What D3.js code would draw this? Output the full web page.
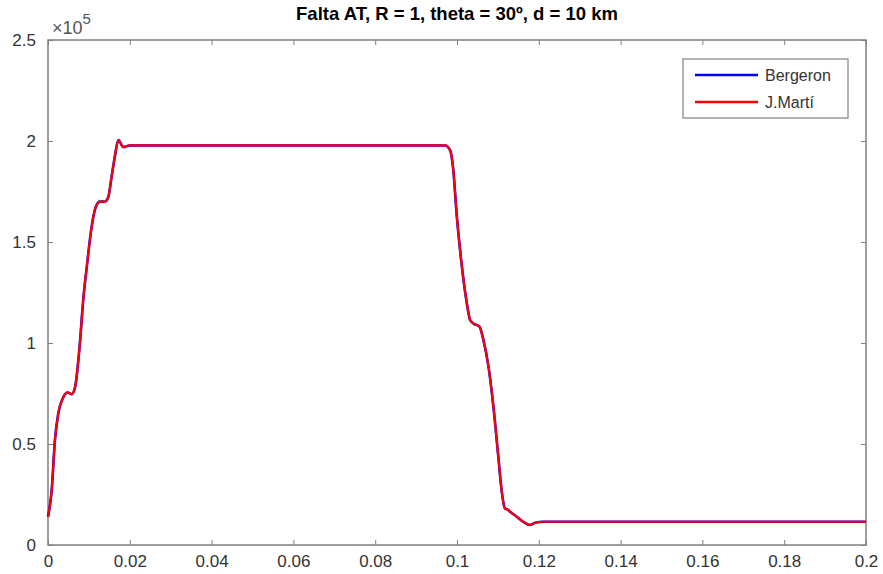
<!DOCTYPE html>
<html>
<head>
<meta charset="utf-8">
<script src="https://cdn.jsdelivr.net/npm/d3@7"></script>
<style>
body { margin: 0; background: #fff; }
svg { display: block; font-family: Arial, "Liberation Sans", sans-serif; }
</style>
</head>
<body>
<svg></svg>
<script>
// time in s, voltage in V
var timeVals = [0, 0.0009, 0.0017, 0.0025, 0.0037, 0.0048, 0.0058, 0.0066, 0.0078, 0.0086, 0.0095,
    0.0107, 0.0117, 0.0127, 0.0139, 0.0147, 0.0156, 0.0164, 0.0172, 0.0184, 0.020, 0.030,
    0.060, 0.090, 0.0971, 0.0983, 0.0991, 0.0999, 0.1011, 0.1024, 0.1032, 0.104, 0.1055,
    0.1064, 0.1077, 0.1089, 0.1101, 0.1109, 0.1117, 0.1124, 0.113, 0.1146, 0.1162, 0.1178,
    0.1191, 0.1211, 0.127, 0.15, 0.2];
var bergeronVals = [14000, 27000, 52000, 65000, 73000, 75500, 74700, 78000, 100000, 121000, 138000,
    158000, 167500, 170000, 170000, 172000, 183000, 193000, 200500, 197000, 197800, 197800,
    197800, 197800, 197800, 195500, 185600, 164000, 139500, 119700, 111400, 109700, 108100,
    102000, 88300, 68500, 43700, 27200, 18200, 17500, 16500, 14000, 11500, 9900,
    11000, 11500, 11500, 11500, 11500];
var martiVals = [14000, 27000, 52000, 65000, 73000, 75500, 74700, 78000, 100000, 121000, 138000,
    158000, 167500, 170000, 170000, 172000, 183000, 193000, 200500, 197000, 197800, 197800,
    197800, 197800, 197800, 195500, 185600, 164000, 139500, 119700, 111400, 109700, 108100,
    102000, 88300, 68500, 43700, 27200, 18200, 17500, 16500, 14000, 11500, 9900,
    11000, 11500, 11500, 11500, 11500];
var xTicks = [0, 0.02, 0.04, 0.06, 0.08, 0.1, 0.12, 0.14, 0.16, 0.18, 0.2];
var yTicks = [0, 50000, 100000, 150000, 200000, 250000];
var seriesNames = ["Bergeron", "J.Martí"];
var seriesColors = ["#0000ff", "#ff0000"];

var viewWidth = 883;
var viewHeight = 574;
var margin = {top: 40, right: 17, bottom: 29, left: 48};
var width = viewWidth - margin.left - margin.right;
var height = viewHeight - margin.top - margin.bottom;
var axisColor = "#808080";
var textColor = "#333";

var svg = d3.select("svg")
    .attr("width", viewWidth)
    .attr("height", viewHeight)
    .append("g")
    .attr("transform", "translate(" + margin.left + "," + margin.top + ")");

var x = d3.scaleLinear().domain([0, 0.2]).range([0, width]);
var y = d3.scaleLinear().domain([0, 250000]).range([height, 0]);

function styleAxis(g) {
    g.select(".domain").remove();
    g.selectAll(".tick line").attr("stroke", axisColor);
    g.selectAll(".tick text").attr("fill", textColor).style("font-size", "17px");
}

// bottom and left axes with inward ticks
svg.append("g")
    .attr("transform", "translate(0," + height + ")")
    .call(d3.axisBottom(x).tickValues(xTicks).tickSize(-5).tickPadding(10)
        .tickFormat(function(d) { return d === 0 ? "0" : String(+d.toFixed(2)); }))
    .call(styleAxis);
svg.append("g")
    .call(d3.axisLeft(y).tickValues(yTicks).tickSize(-5).tickPadding(12)
        .tickFormat(function(d) { return String(d / 100000); }))
    .call(styleAxis);
// top and right ticks (box)
svg.append("g")
    .call(d3.axisTop(x).tickValues(xTicks).tickSize(-5).tickFormat(""))
    .call(styleAxis);
svg.append("g")
    .attr("transform", "translate(" + width + ",0)")
    .call(d3.axisRight(y).tickValues(yTicks).tickSize(-5).tickFormat(""))
    .call(styleAxis);

svg.append("rect")
    .attr("width", width)
    .attr("height", height)
    .attr("fill", "none")
    .attr("stroke", axisColor)
    .attr("stroke-width", 1.5);

// exponent label
var expo = svg.append("text")
    .attr("x", 4)
    .attr("y", -6)
    .attr("fill", "#555")
    .style("font-size", "18px");
expo.append("tspan").text("\u00d710");
expo.append("tspan").attr("dy", -10).style("font-size", "15px").text("5");

var line = d3.line()
    .x(function(d, i) { return x(timeVals[i]); })
    .y(function(d) { return y(d); })
    .curve(d3.curveMonotoneX);

svg.append("path")
    .datum(bergeronVals)
    .attr("fill", "none")
    .attr("stroke", seriesColors[0])
    .attr("stroke-width", 2.6)
    .attr("stroke-linejoin", "round")
    .attr("d", line);

svg.append("path")
    .datum(martiVals)
    .attr("fill", "none")
    .attr("stroke", seriesColors[1])
    .attr("stroke-width", 2.2)
    .attr("stroke-linejoin", "round")
    .attr("d", line);

svg.append("text")
    .attr("x", width / 2)
    .attr("y", -20)
    .attr("text-anchor", "middle")
    .attr("fill", "#000")
    .style("font-size", "18.5px")
    .style("font-weight", "bold")
    .text("Falta AT, R = 1, theta = 30º, d = 10 km");

// legend
var legend = svg.append("g")
    .attr("transform", "translate(" + (width - 183) + ",19)");
legend.append("rect")
    .attr("width", 165)
    .attr("height", 59)
    .attr("fill", "#fff")
    .attr("stroke", axisColor)
    .attr("stroke-width", 1.2);
seriesNames.forEach(function(name, i) {
    legend.append("line")
        .attr("x1", 12).attr("x2", 75)
        .attr("y1", 16 + i * 27).attr("y2", 16 + i * 27)
        .attr("stroke", seriesColors[i])
        .attr("stroke-width", 2.5);
    legend.append("text")
        .attr("x", 82)
        .attr("y", 16 + i * 27)
        .attr("dy", "0.35em")
        .attr("fill", textColor)
        .style("font-size", "16px")
        .text(name);
});
</script>
</body>
</html>
